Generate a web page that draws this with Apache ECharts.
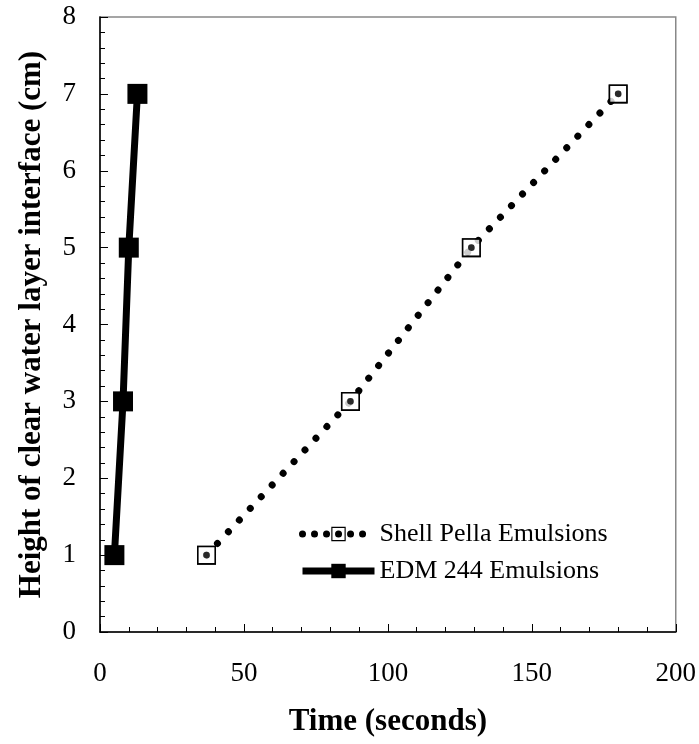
<!DOCTYPE html>
<html>
<head>
<meta charset="utf-8">
<script src="https://cdn.jsdelivr.net/npm/echarts@6/dist/echarts.min.js"></script>
<style>html,body{margin:0;padding:0;background:#fff}#c{width:699px;height:744px}</style>
</head>
<body>
<div id="c"></div>
<script>
const shellTime = [37, 87, 129, 180];
const shellHeight = [1, 3, 5, 7];
const edmTime = [5, 8, 10, 13];
const edmHeight = [1, 3, 5, 7];
const seriesNames = ['Shell Pella Emulsions', 'EDM 244 Emulsions'];
const xTicks = [0, 50, 100, 150, 200];
const yTicks = [0, 1, 2, 3, 4, 5, 6, 7, 8];

const font = 'Liberation Serif, Times New Roman, serif';
const ringDot = 'path://M0,0H20V20H0Z M1.6,1.6V18.4H18.4V1.6Z M10,6.5A3.5,3.5,0,1,1,9.99,6.5Z';
const shellData = shellTime.map((t, i) => [t, shellHeight[i]]);
const edmData = edmTime.map((t, i) => [t, edmHeight[i]]);

const chart = echarts.init(document.getElementById('c'), null, {renderer: 'canvas'});
chart.setOption({
  animation: false,
  backgroundColor: '#fff',
  grid: {left: 100, right: 23, top: 17, bottom: 112, show: true, borderColor: '#888', borderWidth: 1.5, backgroundColor: 'transparent'},
  xAxis: {
    type: 'value', min: xTicks[0], max: xTicks[xTicks.length - 1], interval: 50,
    name: 'Time (seconds)', nameLocation: 'middle', nameGap: 74,
    nameTextStyle: {fontFamily: font, fontWeight: 'bold', fontSize: 31, color: '#000'},
    axisLine: {lineStyle: {color: '#000', width: 1.5}},
    axisTick: {inside: true, length: 8, lineStyle: {color: '#000', width: 1}},
    minorTick: {show: true, splitNumber: 5, length: 5, lineStyle: {color: '#000', width: 1}},
    axisLabel: {fontFamily: font, fontSize: 27, color: '#000', margin: 28},
    splitLine: {show: false}
  },
  yAxis: {
    type: 'value', min: yTicks[0], max: yTicks[yTicks.length - 1], interval: 1,
    name: 'Height of clear water layer interface (cm)', nameLocation: 'middle', nameGap: 53, nameRotate: 90,
    nameTextStyle: {fontFamily: font, fontWeight: 'bold', fontSize: 31, color: '#000'},
    axisLine: {lineStyle: {color: '#000', width: 1.5}},
    axisTick: {inside: true, length: 8, lineStyle: {color: '#000', width: 1}},
    minorTick: {show: true, splitNumber: 5, length: 5, lineStyle: {color: '#000', width: 1}},
    axisLabel: {fontFamily: font, fontSize: 27, color: '#000', margin: 24},
    splitLine: {show: false}
  },
  legend: {
    data: [
      {name: seriesNames[0], lineStyle: {width: 7, type: [0.01, 12], cap: 'round'}},
      {name: seriesNames[1], lineStyle: {width: 7}}
    ],
    orient: 'vertical', left: 299, top: 521, padding: 0,
    itemWidth: 72, itemHeight: 18, itemGap: 11,
    textStyle: {fontFamily: font, fontSize: 26, color: '#000'}
  },
  series: [
    {
      name: seriesNames[0], type: 'line', data: shellData, z: 2,
      symbol: ringDot, symbolSize: 19,
      itemStyle: {color: '#000'},
      lineStyle: {color: '#000', width: 7, type: [0.01, 16], cap: 'round'}
    },
    {
      name: 'shellMask', type: 'scatter', data: shellData, z: 3, silent: true,
      symbol: 'rect', symbolSize: 16, itemStyle: {color: '#fff'}
    },
    {
      name: 'shellMarker', type: 'scatter', data: shellData, z: 4, silent: true,
      symbol: ringDot, symbolSize: 19, itemStyle: {color: '#000'}
    },
    {
      name: seriesNames[1], type: 'line', data: edmData, z: 5,
      symbol: 'rect', symbolSize: 20,
      itemStyle: {color: '#000'},
      lineStyle: {color: '#000', width: 7}
    }
  ]
});
</script>
</body>
</html>
